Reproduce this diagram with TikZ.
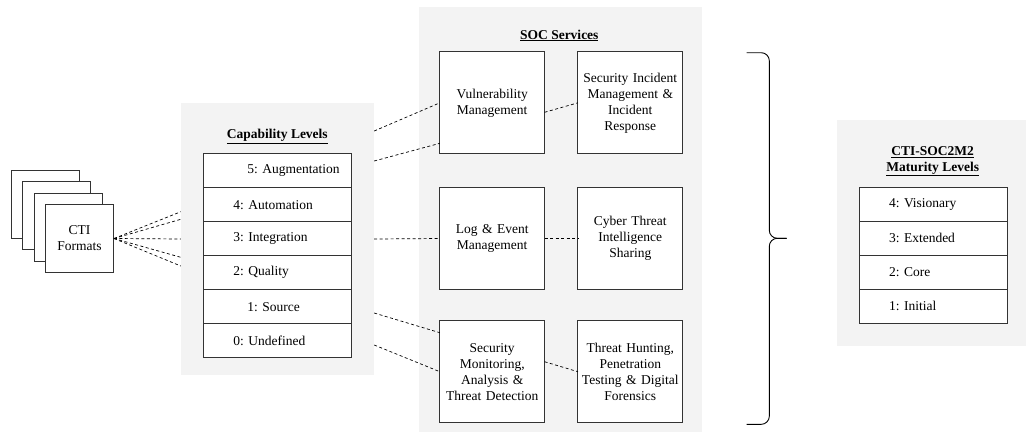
\documentclass[tikz,border=0pt]{standalone}
\usepackage{fontspec}
\setmainfont{Liberation Serif}
\usepackage{tikz}
\usetikzlibrary{positioning}
\newcommand{\diagfont}{\fontsize{13.5}{16}\selectfont\frenchspacing}
\definecolor{panelgray}{RGB}{243,243,243}
\definecolor{edgegray}{RGB}{51,51,51}
\tikzstyle{panel} = [rectangle, fill=panelgray, inner sep=0pt]
\tikzstyle{service} = [rectangle, minimum width=102pt, minimum height=102pt, text width=98pt, text centered, draw=edgegray, line width=0.9pt, fill=white, outer sep=0pt]
\tikzstyle{level} = [rectangle, minimum width=148pt, minimum height=34pt, text width=88pt, align=left, draw=edgegray, line width=0.9pt, fill=white, outer sep=0pt]
\tikzstyle{format} = [rectangle, minimum width=68pt, minimum height=68pt, text width=60pt, text centered, draw=edgegray, line width=0.9pt, fill=white]
\tikzstyle{title} = [font=\diagfont\bfseries, align=center]
\tikzstyle{link} = [line width=0.7pt, dash pattern=on 3pt off 2.5pt]

\begin{document}
\begin{tikzpicture}[x=1pt, y=-1pt, font=\diagfont]
		\useasboundingbox (0,0) rectangle (1026,432);
		% grey panels
		\node (cap) [panel, minimum width=193pt, minimum height=272pt] at (277.5,239) {};
		\node (soc) [panel, minimum width=282.4pt, minimum height=424.7pt] at (560.5,219.7) {};
		\node (mat) [panel, minimum width=188.7pt, minimum height=226pt] at (931.7,233) {};
		% CTI formats
		\node (f1) [format] at (45.5,204.5) {};
		\node (f2) [format] at (56.8,215.8) {};
		\node (f3) [format] at (68.2,227.2) {};
		\node (f4) [format] at (79.5,238.5) {CTI\\Formats};
		% capability levels
		\node (capt) [title] at (277.3,136.7) {\underline{Capability Levels}};
		\node (c5) [level] at (277.3,170.7) {\mbox{\hspace*{14pt}5: Augmentation}};
		\node (c4) [level, below=0pt of c5] {4: Automation};
		\node (c3) [level, below=0pt of c4] {3: Integration};
		\node (c2) [level, below=0pt of c3] {2: Quality};
		\node (c1) [level, below=0pt of c2] {\hspace*{14pt}1: Source};
		\node (c0) [level, below=0pt of c1] {0: Undefined};
		% SOC services
		\node (soct) [title] at (559.3,35.5) {\underline{SOC Services}};
		\node (s1) [service] at (492.2,102.8) {Vulnerability\\Management};
		\node (s2) [service, right=33.4pt of s1] {Security Incident\\Management \&\\Incident\\Response};
		\node (s3) [service] at (492.2,238.5) {Log \& Event\\Management};
		\node (s4) [service, right=33.4pt of s3] {Cyber Threat\\Intelligence\\Sharing};
		\node (s5) [service] at (492.2,371.7) {Security\\Monitoring,\\Analysis \&\\Threat Detection};
		\node (s6) [service, right=33.4pt of s5] {Threat Hunting,\\Penetration\\Testing \& Digital\\Forensics};
		% maturity levels
		\node (matt) [title] at (932.7,161.3) {\underline{CTI-SOC2M2}\\\underline{Maturity Levels}};
		\node (m4) [level] at (933,204.3) {4: Visionary};
		\node (m3) [level, below=0pt of m4] {3: Extended};
		\node (m2) [level, below=0pt of m3] {2: Core};
		\node (m1) [level, below=0pt of m2] {1: Initial};
		% dashed links
		\draw [link] (f4.east) -- ([yshift=27.3pt]cap.west);
		\draw [link] (f4.east) -- ([yshift=19.7pt]cap.west);
		\draw [link] (f4.east) -- (cap.west);
		\draw [link] (f4.east) -- ([yshift=-18.3pt]cap.west);
		\draw [link] (f4.east) -- ([yshift=-27pt]cap.west);
		\draw [link] ([yshift=108pt]cap.east) -- (s1.west);
		\draw [link] ([yshift=78pt]cap.east) -- ([yshift=-40.5pt]s1.west);
		\draw [link] (cap.east) -- (s3.west);
		\draw [link] ([yshift=-74pt]cap.east) -- ([yshift=39pt]s5.west);
		\draw [link] ([yshift=-106pt]cap.east) -- (s5.west);
		\draw [link] ([yshift=-9.5pt]s1.east) -- (s2.west);
		\draw [link] (s3.east) -- (s4.west);
		\draw [link] ([yshift=10pt]s5.east) -- (s6.west);
		% brace
		\draw [line width=0.9pt, rounded corners=8pt] (746.7,52.7) -- (769.3,52.7) -- (769.3,238.3) -- (786.7,238.3);
		\draw [line width=0.9pt, rounded corners=8pt] (746.7,424.3) -- (769.3,424.3) -- (769.3,238.3) -- (786.7,238.3);
\end{tikzpicture}
\end{document}
